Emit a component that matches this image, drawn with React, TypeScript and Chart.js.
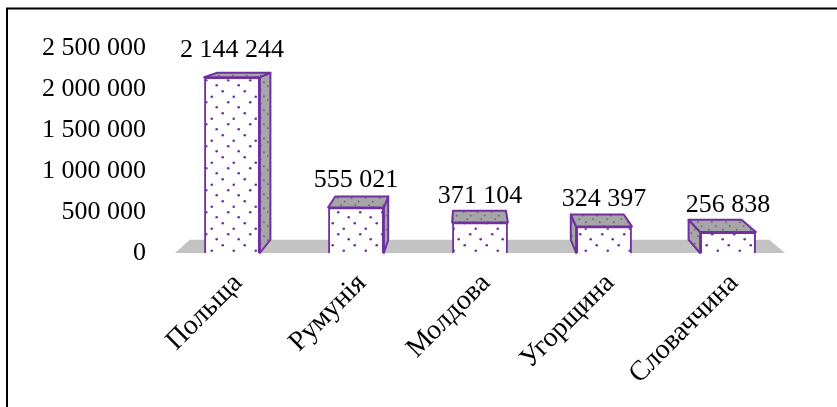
import React, { useEffect, useRef } from 'react';
import { Chart, registerables } from 'chart.js';
Chart.register(...registerables);

const categories = ['Польща', 'Румунія', 'Молдова', 'Угорщина', 'Словаччина'];
const values = [2144244, 555021, 371104, 324397, 256838];
const yMax = 2500000;
const yStep = 500000;

const fmt = (n: number) => String(n).replace(/\B(?=(\d{3})+(?!\d))/g, ' ');

const PURPLE = '#7030A0';
const FONT = "'Liberation Serif', 'Times New Roman', serif";
const VP = { x: 470, y: -12 };
const K = 0.05;
const back = (x: number, y: number): [number, number] => [x + (VP.x - x) * K, y + (VP.y - y) * K];

function makePattern(bg: string, dot: string, step: number, r: number) {
  const c = document.createElement('canvas');
  c.width = step * 2;
  c.height = step * 2;
  const g = c.getContext('2d')!;
  g.fillStyle = bg;
  g.fillRect(0, 0, c.width, c.height);
  g.fillStyle = dot;
  const pts = [
    [step * 0.25, step * 0.3],
    [step * 1.25, step * 0.8],
    [step * 0.75, step * 1.3],
    [step * 1.7, step * 1.75],
  ];
  pts.forEach(([x, y]) => {
    g.beginPath();
    g.arc(x, y, r, 0, Math.PI * 2);
    g.fill();
  });
  const ctx = document.createElement('canvas').getContext('2d')!;
  return ctx.createPattern(c, 'repeat')!;
}

function poly(ctx: CanvasRenderingContext2D, pts: number[][], fill: any) {
  ctx.beginPath();
  ctx.moveTo(pts[0][0], pts[0][1]);
  for (let i = 1; i < pts.length; i++) ctx.lineTo(pts[i][0], pts[i][1]);
  ctx.closePath();
  ctx.fillStyle = fill;
  ctx.fill();
}

export default function App() {
  const ref = useRef<HTMLCanvasElement>(null);
  useEffect(() => {
    const frontPat = makePattern('#ffffff', PURPLE, 11, 1.3);
    const sidePat = makePattern('#a6a6a6', '#6e5a82', 7, 0.9);

    const threeD = {
      id: 'threeD',
      beforeDatasetsDraw(chart: any) {
        const ctx = chart.ctx as CanvasRenderingContext2D;
        const { left, right, bottom } = chart.chartArea;
        const fl = left + 5;
        const fr = right - 5;
        poly(ctx, [[fl, bottom], [fr, bottom], back(fr, bottom), back(fl, bottom)], '#c3c3c3');
        const meta = chart.getDatasetMeta(0);
        meta.data.forEach((bar: any) => {
          const p = bar.getProps(['x', 'y', 'base', 'width'], true);
          const L = p.x - p.width / 2;
          const R = p.x + p.width / 2;
          const T = p.y;
          const B = p.base;
          ctx.save();
          ctx.lineJoin = 'round';
          ctx.strokeStyle = PURPLE;
          ctx.lineWidth = 2;
          if (VP.x > R) {
            const s = [[R, T], [R, B], back(R, B), back(R, T)];
            poly(ctx, s, sidePat);
            ctx.stroke();
          } else if (VP.x < L) {
            const s = [[L, T], [L, B], back(L, B), back(L, T)];
            poly(ctx, s, sidePat);
            ctx.stroke();
          }
          const t = [[L, T], [R, T], back(R, T), back(L, T)];
          poly(ctx, t, sidePat);
          ctx.stroke();
          ctx.restore();
        });
      },
      afterDatasetsDraw(chart: any) {
        const ctx = chart.ctx as CanvasRenderingContext2D;
        const meta = chart.getDatasetMeta(0);
        ctx.save();
        ctx.font = `26px ${FONT}`;
        ctx.fillStyle = '#000';
        ctx.textAlign = 'center';
        ctx.textBaseline = 'alphabetic';
        meta.data.forEach((bar: any, i: number) => {
          const p = bar.getProps(['x', 'y'], true);
          ctx.fillText(fmt(values[i]), p.x, p.y - 20);
        });
        ctx.restore();
      },
      afterDraw(chart: any) {
        const ctx = chart.ctx as CanvasRenderingContext2D;
        ctx.save();
        ctx.strokeStyle = '#000';
        ctx.lineWidth = 2;
        ctx.beginPath();
        ctx.moveTo(7, 407);
        ctx.lineTo(7, 8.5);
        ctx.lineTo(837, 8.5);
        ctx.stroke();
        ctx.restore();
      },
    };

    const chart = new Chart(ref.current!, {
      type: 'bar',
      data: {
        labels: categories,
        datasets: [
          {
            data: values,
            backgroundColor: frontPat as any,
            borderColor: PURPLE,
            borderWidth: 2,
            barPercentage: 0.45,
            categoryPercentage: 1,
          },
        ],
      },
      options: {
        animation: false,
        responsive: true,
        maintainAspectRatio: false,
        layout: { padding: { top: 48, right: 47, left: 0, bottom: 0 } },
        plugins: { legend: { display: false }, tooltip: { enabled: false } },
        scales: {
          x: {
            grid: { display: false, drawTicks: false },
            border: { display: false },
            ticks: {
              font: { family: FONT, size: 28 },
              color: '#000',
              minRotation: 45,
              maxRotation: 45,
              padding: 14,
              labelOffset: 6,
            },
            afterFit(s: any) {
              s.height = 154;
            },
          },
          y: {
            min: 0,
            max: yMax,
            grid: { display: false, drawTicks: false },
            border: { display: false },
            ticks: {
              stepSize: yStep,
              font: { family: FONT, size: 26 },
              color: '#000',
              padding: 24,
              callback: (v: any) => fmt(Number(v)),
            },
            afterFit(s: any) {
              s.width = 170;
            },
          },
        },
      },
      plugins: [threeD],
    });
    return () => chart.destroy();
  }, []);

  return (
    <div style={{ position: 'absolute', left: 0, top: 0, width: 837, height: 407, background: '#fff' }}>
      <canvas ref={ref} />
    </div>
  );
}
